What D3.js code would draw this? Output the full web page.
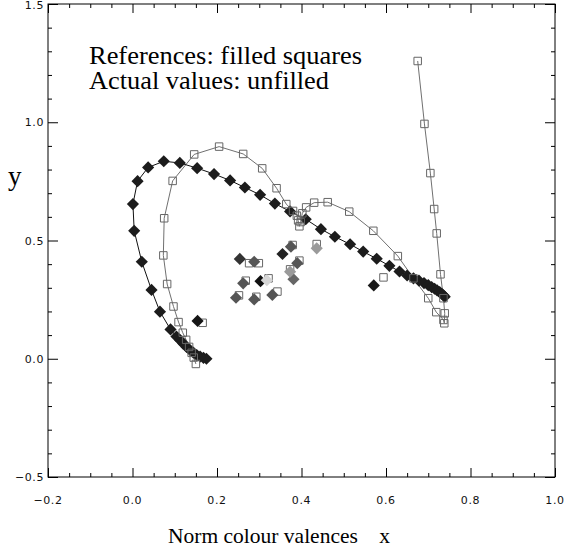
<!DOCTYPE html>
<html><head><meta charset="utf-8">
<script src="https://cdn.jsdelivr.net/npm/d3@7/dist/d3.min.js"></script>
<style>body{margin:0;background:#fff}svg{display:block}</style>
</head><body>
<script>
// Reference locus (filled diamonds, joined by black line)
const locusX = [0.175,0.168,0.160,0.152,0.144,0.136,0.128,0.120,0.113,0.104,0.090,0.065,0.045,0.022,0.004,0.001,0.012,0.037,0.074,0.112,0.153,0.193,0.231,0.266,0.302,0.337,0.373,0.410,0.446,0.479,0.515,0.546,0.578,0.608,0.632,0.650,0.665,0.678,0.690,0.700,0.708,0.715,0.721,0.727,0.732,0.736,0.739];
const locusY = [0.000,0.004,0.009,0.016,0.026,0.037,0.050,0.064,0.078,0.094,0.124,0.199,0.291,0.410,0.541,0.654,0.751,0.809,0.835,0.828,0.806,0.781,0.754,0.724,0.693,0.656,0.623,0.590,0.548,0.516,0.484,0.453,0.423,0.393,0.369,0.352,0.340,0.330,0.320,0.311,0.303,0.296,0.289,0.282,0.275,0.268,0.262];
// Actual values (unfilled squares, joined by grey line)
const actualX = [0.150,0.145,0.140,0.134,0.127,0.119,0.109,0.097,0.082,0.073,0.075,0.095,0.146,0.205,0.262,0.307,0.341,0.364,0.380,0.389,0.392,0.395,0.398,0.402,0.411,0.430,0.462,0.513,0.570,0.628,0.665,0.700,0.719,0.736,0.738,0.739,0.736,0.729,0.720,0.714,0.705,0.691,0.675];
const actualY = [-0.022,0.005,0.025,0.050,0.080,0.110,0.155,0.221,0.316,0.437,0.594,0.752,0.864,0.897,0.866,0.805,0.721,0.654,0.625,0.605,0.585,0.560,0.578,0.615,0.640,0.660,0.662,0.622,0.541,0.434,0.340,0.256,0.197,0.164,0.150,0.192,0.256,0.357,0.530,0.633,0.785,0.993,1.259];
// Sample colours: reference (filled, shaded diamonds) and actual (unfilled squares)
const sampleX = [0.154,0.571,0.254,0.288,0.262,0.245,0.288,0.331,0.303,0.318,0.355,0.375,0.390,0.381,0.373,0.436];
const sampleY = [0.160,0.310,0.422,0.410,0.319,0.258,0.251,0.270,0.328,0.332,0.443,0.474,0.404,0.336,0.368,0.467];
const sampleShade = ["#151515","#1a1a1a","#333333","#555555","#555555","#555555","#555555","#555555","#111111","#d6d6d6","#222222","#555555","#555555","#666666","#9a9a9a","#9a9a9a"];
const sampleActX = [0.166,0.594,0.276,0.299,0.343,0.379,0.373,0.436,0.322,0.293,0.252,0.268,0.395];
const sampleActY = [0.152,0.344,0.404,0.404,0.284,0.481,0.378,0.485,0.340,0.262,0.268,0.330,0.415];
const xTicks = [-0.2,0.0,0.2,0.4,0.6,0.8,1.0];
const yTicks = [-0.5,0.0,0.5,1.0,1.5];

const W=566,H=547;
const svg=d3.select("body").append("svg").attr("width",W).attr("height",H);
const x=d3.scaleLinear().domain([-0.2,1.0]).range([48,555]);
const y=d3.scaleLinear().domain([-0.5,1.5]).range([477,4]);

const fmt=v=>{const s=Math.abs(v).toFixed(1);return v<0?"\u2212"+s:s;};

// frame
svg.append("rect").attr("x",48).attr("y",4).attr("width",507).attr("height",473)
  .attr("fill","none").attr("stroke","#000").attr("stroke-width",1);

const xMinor=d3.range(-0.2,1.0001,0.05).map(v=>+v.toFixed(2));
const yMinor=d3.range(-0.5,1.5001,0.1).map(v=>+v.toFixed(2));
const isMajorX=v=>Math.abs(v/0.2-Math.round(v/0.2))<1e-6;
const isMajorY=v=>Math.abs(v/0.5-Math.round(v/0.5))<1e-6;

function ticksAx(g,axis){g.call(axis);g.select(".domain").remove();}
const gb=svg.append("g").attr("transform","translate(0,477)");
ticksAx(gb,d3.axisTop(x).tickValues(xMinor).tickFormat("").tickSizeOuter(0));
gb.selectAll(".tick line").attr("y2",d=>isMajorX(d)?-9:-4);
const gt=svg.append("g").attr("transform","translate(0,4)");
ticksAx(gt,d3.axisBottom(x).tickValues(xMinor).tickFormat("").tickSizeOuter(0));
gt.selectAll(".tick line").attr("y2",d=>isMajorX(d)?9:4);
const gl=svg.append("g").attr("transform","translate(48,0)");
ticksAx(gl,d3.axisRight(y).tickValues(yMinor).tickFormat("").tickSizeOuter(0));
gl.selectAll(".tick line").attr("x2",d=>isMajorY(d)?10:4);
const gr=svg.append("g").attr("transform","translate(555,0)");
ticksAx(gr,d3.axisLeft(y).tickValues(yMinor).tickFormat("").tickSizeOuter(0));
gr.selectAll(".tick line").attr("x2",d=>isMajorY(d)?-10:-4);
svg.selectAll(".tick line").attr("stroke","#000");

// tick labels
const lab=svg.append("g").attr("font-family","DejaVu Sans, Verdana, sans-serif").attr("font-size",11)
  .attr("letter-spacing",0.6).attr("fill","#111");
lab.selectAll(".xl").data(xTicks).join("text").attr("x",d=>x(d)).attr("y",504)
  .attr("text-anchor","middle").text(fmt);
lab.selectAll(".yl").data(yTicks).join("text").attr("x",44).attr("y",d=>Math.max(9,y(d)+4))
  .attr("text-anchor","end").text(fmt);

// axis titles
const serif="Liberation Serif, Times New Roman, serif";
svg.append("text").attr("x",8).attr("y",185).attr("font-family",serif).attr("font-size",27).text("y");
svg.append("text").attr("x",168).attr("y",543).attr("font-family",serif).attr("font-size",21.5)
  .attr("xml:space","preserve").style("white-space","pre").text("Norm colour valences    x");

// legend text
svg.append("text").attr("x",89).attr("y",64).attr("font-family",serif).attr("font-size",25)
  .attr("textLength",273).attr("lengthAdjust","spacingAndGlyphs").text("References: filled squares");
svg.append("text").attr("x",89).attr("y",89).attr("font-family",serif).attr("font-size",25)
  .attr("textLength",240).attr("lengthAdjust","spacingAndGlyphs").text("Actual values: unfilled");

const plot=svg.append("g");
const line=d3.line().x(d=>x(d[0])).y(d=>y(d[1]));
const actual=actualX.map((v,i)=>[v,actualY[i]]);
const locus=locusX.map((v,i)=>[v,locusY[i]]);

plot.append("path").attr("d",line(actual)).attr("fill","none").attr("stroke","#707070").attr("stroke-width",1);
plot.append("path").attr("d",line(locus)).attr("fill","none").attr("stroke","#111").attr("stroke-width",1);

const diamond=d3.symbol().type(d3.symbolSquare).size(74);
const square=d3.symbol().type(d3.symbolSquare).size(56);

plot.selectAll(".ld").data(locus).join("path").attr("d",diamond)
  .attr("transform",d=>`translate(${x(d[0])},${y(d[1])}) rotate(45)`).attr("fill","#1c1c1c");

const sAct=sampleActX.map((v,i)=>[v,sampleActY[i]]);
plot.selectAll(".sa").data(sAct).join("path").attr("d",square)
  .attr("transform",d=>`translate(${x(d[0])},${y(d[1])})`).attr("fill","none").attr("stroke","#666").attr("stroke-width",1);

const samples=sampleX.map((v,i)=>[v,sampleY[i],sampleShade[i]]);
plot.selectAll(".sd").data(samples).join("path").attr("d",diamond)
  .attr("transform",d=>`translate(${x(d[0])},${y(d[1])}) rotate(45)`).attr("fill",d=>d[2]);

plot.selectAll(".as").data(actual).join("path").attr("d",square)
  .attr("transform",d=>`translate(${x(d[0])},${y(d[1])})`).attr("fill","none").attr("stroke","#666").attr("stroke-width",1);
</script>
</body></html>
